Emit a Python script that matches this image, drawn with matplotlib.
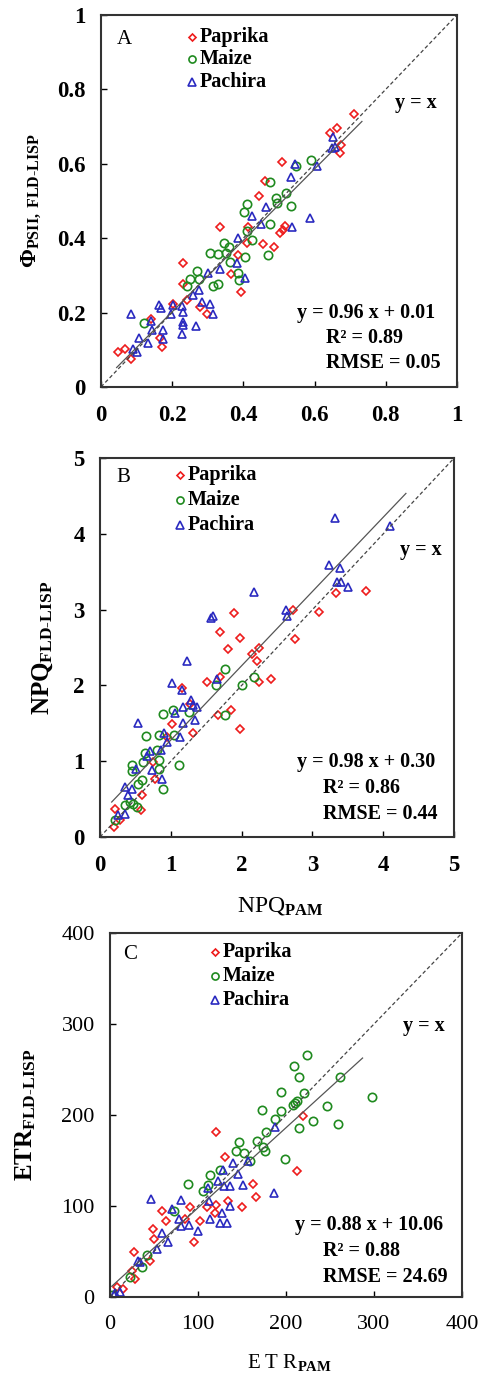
import numpy as np
import matplotlib
matplotlib.use("Agg")
import matplotlib.pyplot as plt

plt.rcParams['font.family'] = ['Liberation Serif', 'DejaVu Serif']
plt.rcParams['mathtext.fontset'] = 'custom'
plt.rcParams['mathtext.rm'] = 'Liberation Serif'
plt.rcParams['mathtext.bf'] = 'Liberation Serif:bold'
plt.rcParams['mathtext.it'] = 'Liberation Serif:italic'

# ---------------- panel A : PhiPSII ----------------
a_pap_x = [0.712, 0.644, 0.664, 0.672, 0.675, 0.508, 0.461, 0.445, 0.511, 0.517, 0.503, 0.454,
           0.485, 0.333, 0.414, 0.410, 0.384, 0.366, 0.394, 0.230, 0.230, 0.241, 0.203, 0.278,
           0.297, 0.166, 0.171, 0.141, 0.049, 0.067, 0.084]
a_pap_y = [0.735, 0.683, 0.695, 0.628, 0.650, 0.604, 0.553, 0.513, 0.422, 0.433, 0.415, 0.383,
           0.377, 0.430, 0.429, 0.386, 0.354, 0.303, 0.254, 0.332, 0.276, 0.233, 0.224, 0.215,
           0.196, 0.132, 0.108, 0.184, 0.094, 0.103, 0.076]
a_mai_x = [0.590, 0.548, 0.475, 0.520, 0.492, 0.494, 0.533, 0.410, 0.403, 0.475, 0.470, 0.410,
           0.424, 0.405, 0.346, 0.361, 0.351, 0.330, 0.306, 0.363, 0.269, 0.250, 0.276, 0.241,
           0.314, 0.330, 0.386, 0.388, 0.121]
a_mai_y = [0.610, 0.595, 0.552, 0.520, 0.509, 0.495, 0.487, 0.493, 0.469, 0.439, 0.356, 0.420,
           0.395, 0.350, 0.386, 0.375, 0.361, 0.357, 0.361, 0.336, 0.312, 0.291, 0.289, 0.271,
           0.271, 0.278, 0.307, 0.287, 0.172]
a_pac_x = [0.653, 0.648, 0.658, 0.608, 0.545, 0.534, 0.588, 0.536, 0.464, 0.425, 0.449, 0.384,
           0.381, 0.405, 0.335, 0.302, 0.276, 0.258, 0.283, 0.306, 0.316, 0.203, 0.227, 0.230,
           0.230, 0.230, 0.227, 0.266, 0.196, 0.164, 0.168, 0.175, 0.175, 0.084, 0.142, 0.108,
           0.133, 0.100, 0.089, 0.141]
a_pac_y = [0.673, 0.641, 0.646, 0.595, 0.598, 0.565, 0.453, 0.429, 0.484, 0.459, 0.439, 0.401,
           0.332, 0.294, 0.316, 0.305, 0.260, 0.247, 0.229, 0.224, 0.197, 0.220, 0.217, 0.202,
           0.175, 0.166, 0.143, 0.163, 0.196, 0.220, 0.211, 0.152, 0.130, 0.197, 0.152, 0.132,
           0.117, 0.094, 0.103, 0.178]

# ---------------- panel B : NPQ ----------------
b_pap_x = [3.75, 3.33, 3.09, 2.72, 2.75, 1.89, 1.70, 1.97, 1.81, 2.15, 2.25, 2.22, 2.24, 2.42,
           1.51, 1.70, 1.85, 1.67, 1.97, 1.16, 1.27, 1.01, 1.31, 0.77, 0.75, 0.60, 0.58, 0.21,
           0.20, 0.28, 0.94]
b_pap_y = [3.25, 3.22, 2.97, 3.00, 2.61, 2.95, 2.70, 2.63, 2.48, 2.42, 2.50, 2.32, 2.05, 2.08,
           2.04, 2.11, 1.68, 1.61, 1.43, 1.96, 1.76, 1.49, 1.37, 0.77, 0.99, 0.55, 0.36, 0.37,
           0.13, 0.22, 1.32]
b_mai_x = [1.76, 2.17, 2.00, 1.64, 1.77, 1.25, 0.89, 1.03, 1.12, 0.65, 0.84, 1.04, 0.64, 0.61,
           0.80, 0.84, 0.84, 0.89, 0.45, 0.45, 0.54, 0.59, 0.47, 0.52, 0.35, 0.21, 0.42]
b_mai_y = [2.22, 2.11, 2.00, 2.00, 1.61, 1.65, 1.62, 1.67, 0.95, 1.33, 1.34, 1.34, 1.11, 0.99,
           1.15, 1.02, 0.90, 0.64, 0.95, 0.87, 0.70, 0.75, 0.44, 0.40, 0.42, 0.22, 0.46]
b_pac_x = [3.32, 4.10, 3.24, 3.39, 3.34, 3.41, 3.50, 2.17, 2.62, 2.64, 1.57, 1.60, 1.23, 1.65,
           1.01, 1.16, 1.28, 1.32, 1.37, 1.17, 1.06, 1.17, 1.34, 0.54, 1.13, 0.90, 0.94, 0.86,
           0.71, 0.66, 0.73, 0.87, 0.51, 0.35, 0.45, 0.40, 0.35, 0.26]
b_pac_y = [4.21, 4.11, 3.59, 3.55, 3.37, 3.37, 3.30, 3.23, 2.99, 2.92, 2.89, 2.92, 2.32, 2.08,
           2.03, 1.94, 1.81, 1.74, 1.72, 1.72, 1.63, 1.50, 1.54, 1.50, 1.32, 1.37, 1.26, 1.15,
           1.14, 1.07, 0.88, 0.77, 0.90, 0.66, 0.64, 0.56, 0.31, 0.29]

# ---------------- panel C : ETR ----------------
c_pap_x = [219, 121, 131, 213, 162, 166, 134, 150, 121, 110, 119, 91, 59, 64, 102, 85, 96, 49,
           50, 27, 45, 28, 25, 15, 8]
c_pap_y = [199, 181, 154, 139, 124, 110, 106, 99, 101, 99, 92, 99, 94, 84, 83, 86, 61, 75, 64,
           50, 40, 20, 29, 9, 11]
c_mai_x = [224, 209, 215, 261, 194, 221, 212, 208, 210, 247, 298, 173, 194, 188, 231, 215, 259,
           177, 167, 174, 176, 147, 143, 152, 159, 199, 125, 114, 111, 89, 106, 73, 42, 36, 23, 2]
c_mai_y = [266, 254, 242, 242, 225, 224, 215, 211, 213, 210, 220, 205, 204, 196, 193, 186, 190,
           181, 171, 165, 161, 170, 161, 158, 150, 152, 140, 134, 123, 124, 117, 94, 46, 33, 22, 2]
c_pac_x = [188, 157, 140, 145, 128, 111, 151, 136, 129, 186, 123, 47, 81, 70, 136, 112, 114, 127,
           125, 133, 90, 81, 78, 100, 59, 66, 53, 34, 32, 11, 6, 4]
c_pac_y = [187, 150, 147, 135, 140, 120, 123, 122, 122, 114, 127, 108, 107, 97, 100, 105, 86, 92,
           81, 81, 79, 78, 86, 73, 70, 61, 53, 39, 40, 6, 4, 2]

# regression lines: slope, intercept, x range of the drawn segment
fits = [(0.96, 0.01, (0.044, 0.733)),
        (0.98, 0.30, (0.165, 4.32)),
        (0.88, 10.06, (2.0, 287.0))]
stats = [("y = 0.96 x + 0.01", "R² = 0.89", "RMSE = 0.05"),
         ("y = 0.98 x + 0.30", "R² = 0.86", "RMSE = 0.44"),
         ("y = 0.88 x + 10.06", "R² = 0.88", "RMSE = 24.69")]
limits = [1.0, 5.0, 400.0]
tick_sets = [[0, 0.2, 0.4, 0.6, 0.8, 1], [0, 1, 2, 3, 4, 5], [0, 100, 200, 300, 400]]
tick_labels = [["0", "0.2", "0.4", "0.6", "0.8", "1"], ["0", "1", "2", "3", "4", "5"],
               ["0", "100", "200", "300", "400"]]
panel_names = ["A", "B", "C"]
ylabels = [r"$\mathbf{\Phi}_{\mathbf{PSII,\ FLD\text{-}LISP}}$",
           r"$\mathbf{NPQ}_{\mathbf{FLD\text{-}LISP}}$",
           r"$\mathbf{ETR}_{\mathbf{FLD\text{-}LISP}}$"]
xlabels = [None, r"NPQ$_{\mathbf{PAM}}$", r"E T R$_{\mathbf{PAM}}$"]
species = ["Paprika", "Maize", "Pachira"]

data = [[(a_pap_x, a_pap_y), (a_mai_x, a_mai_y), (a_pac_x, a_pac_y)],
        [(b_pap_x, b_pap_y), (b_mai_x, b_mai_y), (b_pac_x, b_pac_y)],
        [(c_pap_x, c_pap_y), (c_mai_x, c_mai_y), (c_pac_x, c_pac_y)]]

colors = ["#ee1c1c", "#1f8a1f", "#2a2ac0"]
markers = ["D", "o", "^"]
msizes = [4.2, 6.0, 6.0]

# placement of the axes (left, bottom, width, height) and of the texts, in axes fractions
boxes = [[0.2082, 0.7198, 0.734, 0.2694],
         [0.2062, 0.3939, 0.730, 0.2744],
         [0.2268, 0.0608, 0.7258, 0.2636]]
label_pos = [(0.067, 0.933), (0.065, 0.95), (0.057, 0.94)]
legend_pos = [(0.256, [0.941, 0.882, 0.820]),
              (0.226, [0.955, 0.889, 0.823]),
              (0.298, [0.948, 0.882, 0.816])]
yx_pos = [(0.944, 0.763), (0.966, 0.757), (0.952, 0.745)]
stat_pos = [(0.938, 0.632, [0.199, 0.132, 0.065]),
            (0.946, 0.630, [0.198, 0.129, 0.061]),
            (0.946, 0.605, [0.198, 0.126, 0.055])]
ylabel_x = [-0.163, -0.127, -0.205]
ylabel_size = [16.5, 18, 18]
xlabel_size = [15, 17, 15]
tick_size = [16.5, 16.5, 16]
tick_weight = ["bold", "bold", "normal"]

fig = plt.figure(figsize=(4.85, 13.81), dpi=100)

for i in range(3):
    ax = fig.add_axes(boxes[i])
    lim = limits[i]
    for j in range(3):
        x, y = data[i][j]
        ax.plot(x, y, linestyle="none", marker=markers[j], markersize=msizes[j],
                markerfacecolor="none", markeredgecolor=colors[j], markeredgewidth=1.2)
    # 1:1 line
    ax.plot([0, lim], [0, lim], linestyle=(0, (3, 2)), color="#444444", linewidth=0.9)
    # regression line
    k, b, (x0, x1) = fits[i]
    xx = np.array([x0, x1])
    ax.plot(xx, k * xx + b, color="#555555", linewidth=0.9)

    ax.set_xlim(0, lim)
    ax.set_ylim(0, lim)
    ax.set_xticks(tick_sets[i])
    ax.set_yticks(tick_sets[i])
    ax.set_xticklabels(tick_labels[i], fontsize=tick_size[i], fontweight=tick_weight[i])
    ax.set_yticklabels(tick_labels[i], fontsize=tick_size[i], fontweight=tick_weight[i])
    ax.tick_params(direction="in", length=4, width=1, top=False, right=False)
    ax.tick_params(axis="x", pad=13)
    ax.tick_params(axis="y", pad=11)
    for s in ax.spines.values():
        s.set_linewidth(1.5)
        s.set_color("#333333")

    ax.set_ylabel(ylabels[i], fontsize=ylabel_size[i])
    ax.yaxis.set_label_coords(ylabel_x[i], 0.5)
    if xlabels[i]:
        ax.set_xlabel(xlabels[i], fontsize=xlabel_size[i])
        ax.xaxis.set_label_coords(0.51, -0.152)

    ax.text(*label_pos[i], panel_names[i], transform=ax.transAxes, fontsize=15,
            ha="center", va="center")

    lx, lys = legend_pos[i]
    for j in range(3):
        ax.plot([lx], [lys[j]], transform=ax.transAxes, linestyle="none", marker=markers[j],
                markersize=msizes[j] * 0.85, markerfacecolor="none", markeredgecolor=colors[j],
                markeredgewidth=1.2, clip_on=False)
        ax.text(lx + 0.022, lys[j], species[j], transform=ax.transAxes, fontsize=14.5,
                fontweight="bold", ha="left", va="center")

    ax.text(*yx_pos[i], "y = x", transform=ax.transAxes, fontsize=14.5, fontweight="bold",
            ha="right", va="center")
    rx, lx2, sys_ = stat_pos[i]
    ax.text(rx, sys_[0], stats[i][0], transform=ax.transAxes, fontsize=14.5, fontweight="bold",
            ha="right", va="center")
    ax.text(lx2, sys_[1], stats[i][1], transform=ax.transAxes, fontsize=14.5, fontweight="bold",
            ha="left", va="center")
    ax.text(lx2, sys_[2], stats[i][2], transform=ax.transAxes, fontsize=14.5, fontweight="bold",
            ha="left", va="center")

fig.savefig("out.png", dpi=100)
